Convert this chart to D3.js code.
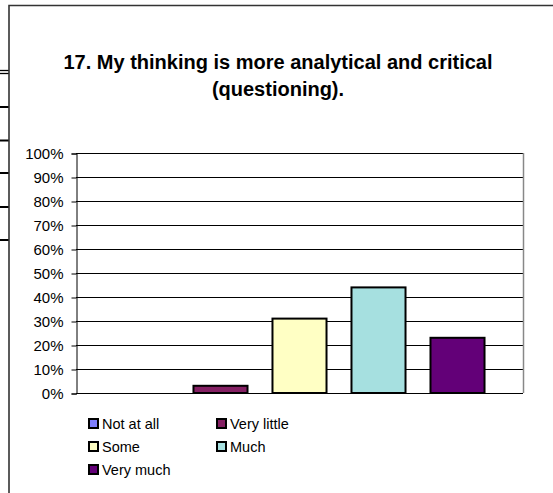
<!DOCTYPE html>
<html><head><meta charset="utf-8">
<script src="https://cdn.jsdelivr.net/npm/d3@7"></script>
<style>body{margin:0;background:#fff}svg{display:block}text{font-family:Arial,"Liberation Sans",sans-serif;fill:#000}</style>
</head><body>
<script>
const series = ["Not at all", "Very little", "Some", "Much", "Very much"];
const values = [0, 3, 31, 44, 23];
const colors = ["#8080FF", "#842063", "#FFFFC4", "#A6E0E0", "#630078"];
const yTicks = [0, 10, 20, 30, 40, 50, 60, 70, 80, 90, 100];
const titleLines = ["17. My thinking is more analytical and critical", "(questioning)."];

const W = 553, H = 493;
const svg = d3.select("body").append("svg").attr("width", W).attr("height", H);

// stray cell borders left of chart frame
[70.5, 73.5, 107, 140.5, 173, 207, 240].forEach((y, i) => {
  svg.append("line").attr("x1", 0).attr("x2", 9).attr("y1", y).attr("y2", y)
    .attr("stroke", "#000").attr("stroke-width", i < 2 ? 1.3 : 2);
});
// chart frame
svg.append("path").attr("d", "M9,493V5.5H553").attr("fill", "none").attr("stroke", "#333").attr("stroke-width", 1.6);

const plot = {l: 76, r: 523, t: 153, b: 393};
const y = d3.scaleLinear().domain([0, 100]).range([plot.b, plot.t]);
const x = d3.scaleBand().domain(series).range([plot.l, plot.r]).paddingInner(0.316).paddingOuter(0.487);

// gridlines
svg.append("g").selectAll("line").data(yTicks.filter(d => d > 0)).join("line")
  .attr("x1", plot.l).attr("x2", plot.r)
  .attr("y1", d => Math.round(y(d)) + 0.5).attr("y2", d => Math.round(y(d)) + 0.5)
  .attr("stroke", "#000").attr("stroke-width", 1);
// plot right border
svg.append("line").attr("x1", plot.r + 0.5).attr("x2", plot.r + 0.5).attr("y1", plot.t).attr("y2", plot.b)
  .attr("stroke", "#888").attr("stroke-width", 1.5);

// y axis
const yAxis = d3.axisLeft(y).tickValues(yTicks).tickFormat(d => d + "%").tickSize(5).tickPadding(8);
const ga = svg.append("g").attr("transform", `translate(${plot.l + 0.5},0.5)`).call(yAxis);
ga.select(".domain").attr("stroke", "#000");
ga.selectAll(".tick line").attr("stroke", "#000");
ga.selectAll(".tick text").style("font-size", "15px").attr("fill", "#000");

// bars
svg.append("g").selectAll("rect").data(series.map((s, i) => ({s, v: values[i], c: colors[i]})).filter(d => d.v > 0)).join("rect")
  .attr("x", d => x(d.s)).attr("width", x.bandwidth())
  .attr("y", d => y(d.v)).attr("height", d => y(0) - y(d.v))
  .attr("fill", d => d.c).attr("stroke", "#000").attr("stroke-width", 2);

// x axis line
svg.append("line").attr("x1", plot.l).attr("x2", plot.r).attr("y1", plot.b + 0.5).attr("y2", plot.b + 0.5)
  .attr("stroke", "#000").attr("stroke-width", 1);

// title
svg.append("text").attr("x", 278).attr("y", 69).attr("text-anchor", "middle")
  .style("font-size", "20px").style("font-weight", "bold")
  .selectAll("tspan").data(titleLines).join("tspan")
  .attr("x", 278).attr("dy", (d, i) => i === 0 ? 0 : 27).text(d => d);

// legend
const lg = svg.append("g");
series.forEach((s, i) => {
  const col = i % 2, row = Math.floor(i / 2);
  const gx = 89 + col * 128, gy = 419 + row * 23;
  lg.append("rect").attr("x", gx).attr("y", gy).attr("width", 9).attr("height", 9)
    .attr("fill", colors[i]).attr("stroke", "#000").attr("stroke-width", 2);
  lg.append("text").attr("x", gx + 13).attr("y", gy + 10).style("font-size", "14.5px").text(s);
});
</script>
</body></html>
